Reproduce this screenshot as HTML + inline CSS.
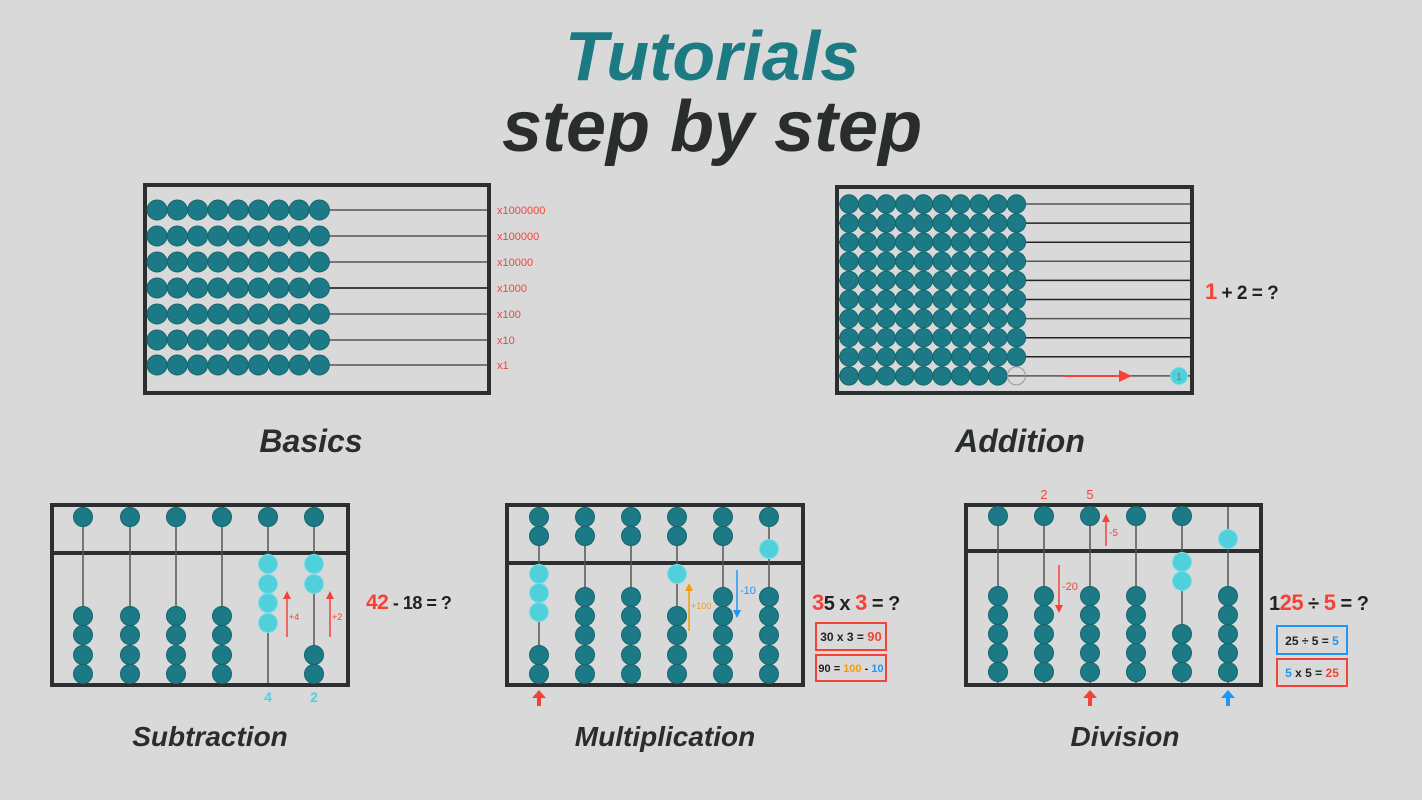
<!DOCTYPE html>
<html><head><meta charset="utf-8"><style>
html,body{margin:0;padding:0;background:#d9d9d9;}
svg{display:block;font-family:"Liberation Sans",sans-serif;}
</style></head><body>
<svg id="s" width="1422" height="800" viewBox="0 0 1422 800" xmlns="http://www.w3.org/2000/svg">
<rect width="1422" height="800" fill="#d9d9d9"/>
<text x="712" y="80" text-anchor="middle" font-size="70" font-weight="bold" font-style="italic" fill="#1b7a82">Tutorials</text>
<text x="712" y="151" text-anchor="middle" font-size="72" font-weight="bold" font-style="italic" fill="#2a2d2e">step by step</text>
<g font-weight="bold" font-style="italic" fill="#2a2d2e">
<text x="311" y="452" text-anchor="middle" font-size="32">Basics</text>
<text x="1020" y="452" text-anchor="middle" font-size="32">Addition</text>
<text x="210" y="746" text-anchor="middle" font-size="28">Subtraction</text>
<text x="665" y="746" text-anchor="middle" font-size="28">Multiplication</text>
<text x="1125" y="746" text-anchor="middle" font-size="28">Division</text>
</g>
<g id="g"></g>
</svg>
<script>
const g=document.getElementById('g');let h='';
const T='#1b7a85',TS='#16666e',C='#4fd0da',R='#f44336',F='#2b2f30';
function bead(x,y,r,c){h+=`<circle cx="${x}" cy="${y}" r="${r}" fill="${c||T}" stroke="${c==C?'#7fdde4':TS}" stroke-width="1"/>`;}
function line(x1,y1,x2,y2,c,w){h+=`<line x1="${x1}" y1="${y1}" x2="${x2}" y2="${y2}" stroke="${c||'#555'}" stroke-width="${w||1.5}"/>`;}
function frame(x,y,w,hh){h+=`<rect x="${x}" y="${y}" width="${w}" height="${hh}" fill="none" stroke="${F}" stroke-width="4"/>`;}
function txt(x,y,s,sz,c,a,b){h+=`<text x="${x}" y="${y}" font-size="${sz}" fill="${c||'#222'}" ${a?'text-anchor="'+a+'"':''} ${b?'font-weight="bold"':''}>${s}</text>`;}
function arrow(x,y1,y2,c){
 const d=y2<y1?1:-1;line(x,y1,x,y2+d*6,c,1.5);
 h+=`<polygon points="${x-4},${y2+d*8} ${x+4},${y2+d*8} ${x},${y2}" fill="${c}"/>`;}
function bigArrow(x,y,c){h+=`<polygon points="${x},${y} ${x+7},${y+8} ${x+2},${y+8} ${x+2},${y+16} ${x-2},${y+16} ${x-2},${y+8} ${x-7},${y+8}" fill="${c}"/>`;}
function eq(x,y,inner,sz){h+=`<text x="${x}" y="${y}" font-size="${sz}" font-weight="bold" fill="#222" letter-spacing="-0.5">${inner}</text>`;}
// Basics
frame(145,185,344,208);
const by=[210,236,262,288,314,340,365],bl=['x1000000','x100000','x10000','x1000','x100','x10','x1'];
by.forEach((y,i)=>{line(150,y,487,y,i==3?'#111':'#555');for(let k=0;k<9;k++)bead(157+k*20.3,y,10);txt(497,y+4,bl[i],11,R);});
// Addition
frame(837,187,355,206);
for(let i=0;i<10;i++){const y=204+i*19.1;line(839,y,1190,y,i%3==0?'#555':'#222');
 for(let k=0;k<10;k++){if(i==9&&k==9){h+=`<circle cx="${849+k*18.6}" cy="${y}" r="9" fill="none" stroke="#999" stroke-width="1"/>`;}else bead(849+k*18.6,y,9.2);}}
line(1063,376,1122,376,R,2);h+=`<polygon points="1119,370 1132,376 1119,382" fill="${R}"/>`;
bead(1179,376,8.5,C);txt(1179,380,'1',10,R,'middle');
eq(1205,299,`<tspan fill="${R}" font-size="22">1</tspan> + 2 = ?`,19);
function vab(x0,y0,w,hh,div,cols){frame(x0,y0,w,hh);line(x0,div,x0+w,div,F,4);
 cols.forEach(c=>{line(c.x,y0+2,c.x,y0+hh-2,'#555',1.5);c.b.forEach(b=>bead(c.x,b[0],9.5,b[1]));});}
// Subtraction
const sx=[83,130,176,222,268,314],low=[616,635,655,674];
vab(52,505,296,180,553,sx.map((x,i)=>({x,b:i<4?[[517],...low.map(y=>[y])]:i==4?[[517],[564,C],[584,C],[603,C],[623,C]]:[[517],[564,C],[584,C],[655],[674]]})));
arrow(287,637,591,R);txt(289,620,'+4',9,R);arrow(330,637,591,R);txt(332,620,'+2',9,R);
txt(268,702,'4',14,C,'middle',1);txt(314,702,'2',14,C,'middle',1);
eq(366,609,`<tspan fill="${R}" font-size="21">42</tspan> - 18 = ?`,18);
// Multiplication
const mx=[539,585,631,677,723,769],l5=[597,616,635,655,674];
vab(507,505,296,180,563,mx.map((x,i)=>{let t=[[517],[536]];let b;
 if(i==0)b=[[574,C],[593,C],[612,C],[655],[674]];else if(i==3)b=[[574,C],[616],[635],[655],[674]];else b=l5.map(y=>[y]);
 if(i==5)t=[[517],[549,C]];return {x,b:t.concat(b)};}));
arrow(689,631,583,'#f39c12');txt(691,609,'+100',9,'#f39c12');
arrow(737,570,618,'#2196f3');txt(740,594,'-10',11,'#2196f3');
bigArrow(539,690,R);
eq(812,610,`<tspan fill="${R}" font-size="22">3</tspan>5 x <tspan fill="${R}" font-size="22">3</tspan> = ?`,20);
h+=`<rect x="816" y="623" width="70" height="27" fill="none" stroke="${R}" stroke-width="2"/>`;
h+=`<text x="851" y="641" font-size="12" font-weight="bold" text-anchor="middle" fill="#222">30 x 3 = <tspan fill="${R}" font-size="13">90</tspan></text>`;
h+=`<rect x="816" y="655" width="70" height="26" fill="none" stroke="${R}" stroke-width="2"/>`;
h+=`<text x="851" y="672" font-size="11" font-weight="bold" text-anchor="middle" fill="#222">90 = <tspan fill="#f39c12">100</tspan> - <tspan fill="#2196f3">10</tspan></text>`;
// Division
const dx=[998,1044,1090,1136,1182,1228],d5=[596,615,634,653,672];
vab(966,505,295,180,551,dx.map((x,i)=>{let t=i==5?[[539,C]]:[[516]];let b;
 if(i==4)b=[[562,C],[581,C],[634],[653],[672]];else b=d5.map(y=>[y]);return {x,b:t.concat(b)};}));
txt(1044,499,'2',13,R,'middle');txt(1090,499,'5',13,R,'middle');
arrow(1106,546,514,R);txt(1109,536,'-5',10,R);
arrow(1059,565,613,R);txt(1062,590,'-20',11,R);
bigArrow(1090,690,R);bigArrow(1228,690,'#2196f3');
eq(1269,610,`1<tspan fill="${R}" font-size="22">25</tspan> ÷ <tspan fill="${R}" font-size="22">5</tspan> = ?`,20);
h+=`<rect x="1277" y="626" width="70" height="28" fill="none" stroke="#2196f3" stroke-width="2"/>`;
h+=`<text x="1312" y="645" font-size="12" font-weight="bold" text-anchor="middle" fill="#222">25 ÷ 5 = <tspan fill="#2196f3">5</tspan></text>`;
h+=`<rect x="1277" y="659" width="70" height="27" fill="none" stroke="${R}" stroke-width="2"/>`;
h+=`<text x="1312" y="677" font-size="12" font-weight="bold" text-anchor="middle" fill="#222"><tspan fill="#2196f3">5</tspan> x 5 = <tspan fill="${R}">25</tspan></text>`;
g.innerHTML=h;
</script>
</body></html>
